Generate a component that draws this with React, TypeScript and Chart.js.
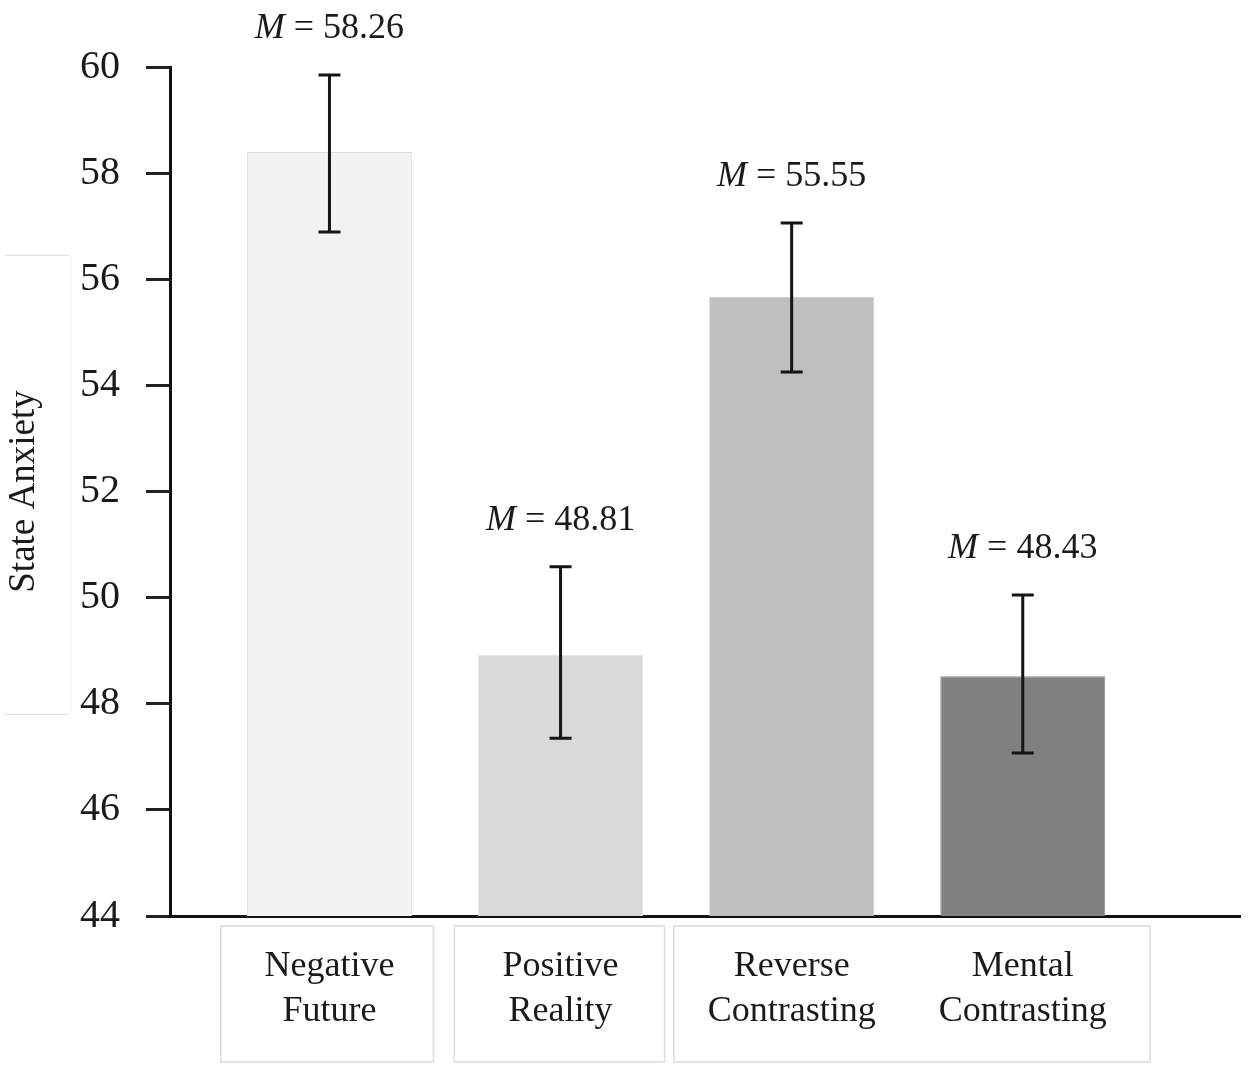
import React, { useEffect, useRef } from "react";
import { Chart, registerables } from "chart.js";

Chart.register(...registerables);

const categories: string[][] = [
  ["Negative", "Future"],
  ["Positive", "Reality"],
  ["Reverse", "Contrasting"],
  ["Mental", "Contrasting"],
];
const barValues = [58.4, 48.92, 55.67, 48.52];
const errHigh = [59.85, 50.58, 57.06, 50.05];
const errLow = [56.89, 47.35, 54.25, 47.07];
const meanLabels = ["58.26", "48.81", "55.55", "48.43"];
const barColors = ["#f2f2f2", "#d9d9d9", "#bfbfbf", "#808080"];
const barBorders = ["#dedede", "#e6e6e6", "#cccccc", "#8c8c8c"];
const yTicks = [44, 46, 48, 50, 52, 54, 56, 58, 60];

const SERIF = '"Liberation Serif", "Times New Roman", serif';

const decorPlugin = {
  id: "decor",
  afterDatasetsDraw(chart: any) {
    const ctx = chart.ctx;
    const xs = chart.scales.x;
    const ys = chart.scales.y;
    const area = chart.chartArea;
    ctx.save();
    // error bars
    ctx.strokeStyle = "#151515";
    ctx.lineWidth = 3;
    for (let i = 0; i < barValues.length; i++) {
      const x = xs.getPixelForValue(i);
      const yt = ys.getPixelForValue(errHigh[i]);
      const yb = ys.getPixelForValue(errLow[i]);
      ctx.beginPath();
      ctx.moveTo(x, yt);
      ctx.lineTo(x, yb);
      ctx.moveTo(x - 11, yt);
      ctx.lineTo(x + 11, yt);
      ctx.moveTo(x - 11, yb);
      ctx.lineTo(x + 11, yb);
      ctx.stroke();
      // mean labels
      const mFont = "italic 36px " + SERIF;
      const rFont = "36px " + SERIF;
      const rest = " = " + meanLabels[i];
      ctx.font = mFont;
      const wM = ctx.measureText("M").width;
      ctx.font = rFont;
      const wR = ctx.measureText(rest).width;
      const total = wM + wR;
      const x0 = x - total / 2;
      const base = yt - 37;
      ctx.fillStyle = "#1a1a1a";
      ctx.textBaseline = "alphabetic";
      ctx.textAlign = "left";
      ctx.font = mFont;
      ctx.fillText("M", x0, base);
      ctx.font = rFont;
      ctx.fillText(rest, x0 + wM, base);
    }
    // category boxes
    ctx.strokeStyle = "#dcdcdc";
    ctx.lineWidth = 1.5;
    const top = area.bottom + 10;
    const bot = area.bottom + 146;
    const boxes = [
      [-0.47, 0.45],
      [0.54, 1.45],
      [1.49, 3.55],
    ];
    boxes.forEach(([a, b]) => {
      const l = xs.getPixelForValue(a);
      const r = xs.getPixelForValue(b);
      ctx.strokeRect(l, top, r - l, bot - top);
    });
    // y title box
    ctx.strokeStyle = "#e2e2e2";
    ctx.lineWidth = 1.2;
    const t = ys.getPixelForValue(56.45);
    const b2 = ys.getPixelForValue(47.8);
    ctx.beginPath();
    ctx.moveTo(5, t);
    ctx.lineTo(69, t);
    ctx.moveTo(5, b2);
    ctx.lineTo(69, b2);
    ctx.stroke();
    ctx.strokeStyle = "#f2f2f2";
    ctx.beginPath();
    ctx.moveTo(71, t);
    ctx.lineTo(71, b2);
    ctx.stroke();
    ctx.restore();
  },
};

export default function App() {
  const ref = useRef<HTMLCanvasElement | null>(null);
  useEffect(() => {
    document.body.style.margin = "0";
    const canvas = ref.current;
    if (!canvas) return;
    const chart = new Chart(canvas, {
      type: "bar",
      data: {
        datasets: [
          {
            data: barValues.map((v, i) => ({ x: i, y: v })),
            backgroundColor: barColors,
            borderColor: barBorders,
            borderWidth: 1,
            barPercentage: 0.714,
            categoryPercentage: 1,
          },
        ],
      },
      options: {
        animation: false,
        responsive: false,
        devicePixelRatio: 1,
        layout: { padding: { top: 67, right: 8, bottom: 0, left: 0 } },
        plugins: {
          legend: { display: false },
          tooltip: { enabled: false },
        },
        scales: {
          x: {
            type: "linear",
            min: -0.69,
            max: 3.94,
            offset: false,
            afterBuildTicks: (scale: any) => {
              scale.ticks = categories.map((_, i) => ({ value: i }));
            },
            afterFit: (scale: any) => {
              scale.height = 156;
            },
            grid: { display: true, drawOnChartArea: false, drawTicks: false },
            border: { display: true, color: "#111", width: 3 },
            ticks: {
              autoSkip: false,
              maxRotation: 0,
              padding: 28,
              color: "#1a1a1a",
              font: { family: SERIF, size: 36, lineHeight: 1.25 },
              callback: (v: any) => categories[Math.round(Number(v))] ?? "",
            },
          },
          y: {
            type: "linear",
            min: 44,
            max: 60,
            afterBuildTicks: (scale: any) => {
              scale.ticks = yTicks.map((v) => ({ value: v }));
            },
            afterFit: (scale: any) => {
              scale.width = 170;
            },
            grid: {
              drawOnChartArea: false,
              drawTicks: true,
              tickLength: 24,
              tickWidth: 3,
              tickColor: "#222",
            },
            border: { display: true, color: "#111", width: 3 },
            ticks: {
              padding: 26,
              color: "#1a1a1a",
              font: { family: SERIF, size: 40 },
            },
            title: {
              display: true,
              text: "State Anxiety",
              color: "#1a1a1a",
              font: { family: SERIF, size: 37, lineHeight: 1.2 },
              padding: { top: 2, bottom: 0 },
            },
          },
        },
      },
      plugins: [decorPlugin],
    } as any);
    return () => chart.destroy();
  }, []);
  return (
    <div style={{ position: "absolute", left: 0, top: 0, width: 1248, height: 1072, background: "#fff" }}>
      <canvas ref={ref} width={1248} height={1072} style={{ width: 1248, height: 1072 }} />
    </div>
  );
}
